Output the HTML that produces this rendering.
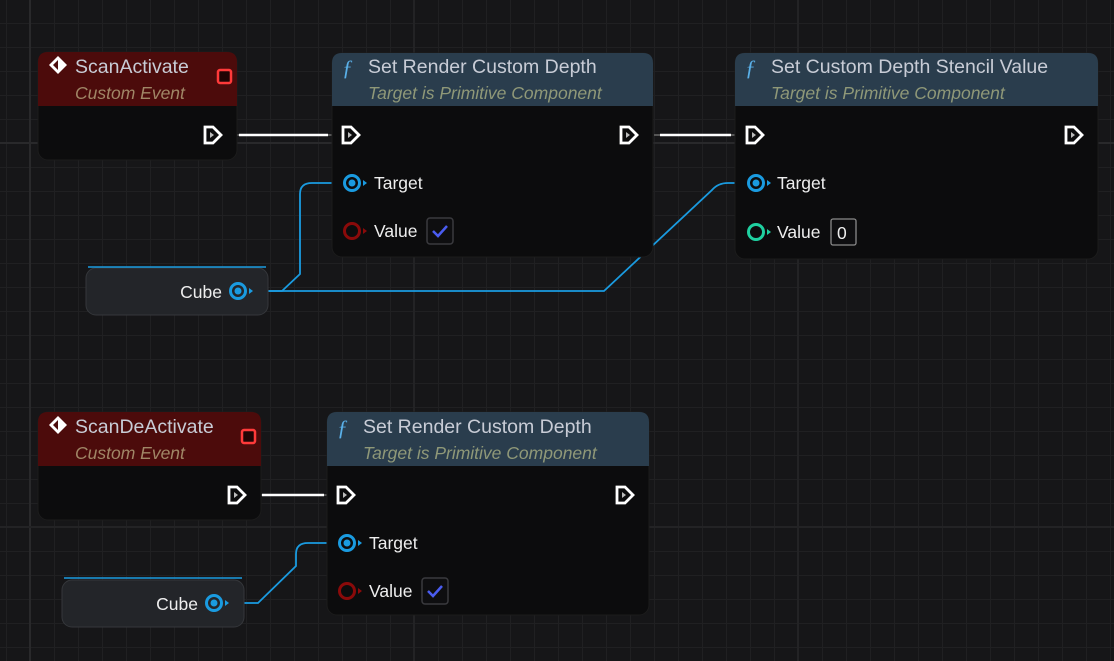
<!DOCTYPE html>
<html><head><meta charset="utf-8"><style>
html,body{margin:0;padding:0;background:#161616;}
svg{display:block;font-family:"Liberation Sans","DejaVu Sans",sans-serif;}
.t{fill:#c8ccd6;font-size:19.5px;}
.sub{fill:#8f9878;font-size:17.5px;font-style:italic;}
.ev{fill:#a08666;font-size:17.5px;font-style:italic;}
.lbl{fill:#eeeeee;font-size:17.5px;}
</style></head><body>
<svg width="1114" height="661" viewBox="0 0 1114 661" xmlns="http://www.w3.org/2000/svg">
<defs>
<pattern id="g" x="6" y="23" width="24" height="24" patternUnits="userSpaceOnUse">
<path d="M0 0H24M0 0V24" stroke="#202022" stroke-width="2" fill="none"/>
</pattern>
<g id="ex"><path d="M-8 -8H0L8 0L0 8H-8Z" fill="none" stroke="#fff" stroke-width="2.8"/><path d="M-3 -3L1 0L-3 3Z" fill="#bbb"/></g>
<g id="bp"><circle r="7.5" fill="none" stroke="#1a9be0" stroke-width="3"/><circle r="3.5" fill="#1a9be0"/><path d="M11 -3L15 0L11 3Z" fill="#1a9be0"/></g>
<g id="rp"><circle r="7.5" fill="none" stroke="#8a0a0a" stroke-width="3"/><path d="M11 -3L15 0L11 3Z" fill="#8a0a0a"/></g>
<g id="tp"><circle r="7.5" fill="none" stroke="#1fd0a0" stroke-width="3"/><path d="M11 -3L15 0L11 3Z" fill="#1fd0a0"/></g>
<g id="ck"><rect x="0" y="0" width="26" height="26" rx="3" fill="#0e0e10" stroke="#3a3a3e" stroke-width="1.5"/><path d="M6 13L11 18L20 8" fill="none" stroke="#4a5cf0" stroke-width="2.5"/></g>
</defs>
<rect width="1114" height="661" fill="#161618"/>
<rect width="1114" height="661" fill="url(#g)"/>
<path d="M30 0V661M0 143H1114" stroke="#29292b" stroke-width="2"/>
<path d="M414 0V661M798 0V661M0 527H1114" stroke="#232325" stroke-width="2"/>

<!-- wires top -->
<path d="M237 135H332" stroke="#555" stroke-width="2"/>
<path d="M239 135H328" stroke="#fff" stroke-width="2.5"/>
<path d="M654 135H735" stroke="#555" stroke-width="2"/>
<path d="M660 135H731" stroke="#fff" stroke-width="2.5"/>
<path d="M252 291H282L300 274V194Q300 183 312 183H344" stroke="#1a9be0" stroke-width="1.8" fill="none"/>
<path d="M260 291H604L712 190Q718 183 728 183H748" stroke="#1a9be0" stroke-width="1.8" fill="none"/>
<!-- wires bottom -->
<path d="M261 495H327" stroke="#555" stroke-width="2"/>
<path d="M262 495H324" stroke="#fff" stroke-width="2.5"/>
<path d="M228 603H258L296 566V554Q296 543 308 543H339" stroke="#1a9be0" stroke-width="1.8" fill="none"/>

<!-- Event top -->
<rect x="38" y="52" width="199" height="108" rx="10" fill="#0c0c0d" stroke="#1c1c1c"/>
<path d="M48 52H227Q237 52 237 62V106H38V62Q38 52 48 52Z" fill="#4c0b0b"/>
<path d="M58 56L67 65L58 74L49 65Z" fill="#fff"/><path d="M58 60L58 70L53 65Z" fill="#4c0b0b"/>
<text class="t" x="75" y="73">ScanActivate</text>
<text class="ev" x="75" y="99">Custom Event</text>
<rect x="218" y="70" width="13" height="13" rx="2" fill="#200404" stroke="#ff3a3a" stroke-width="2.5"/>
<use href="#ex" x="213" y="135"/>

<!-- Func 1 -->
<rect x="332" y="53" width="321" height="204" rx="10" fill="#0c0c0d" stroke="#1c1c1c"/>
<path d="M342 53H643Q653 53 653 63V106H332V63Q332 53 342 53Z" fill="#2a3d4d"/>
<text x="342" y="75" fill="#5ab0e8" font-size="22" font-style="italic" font-family="Liberation Serif,serif">ƒ</text>
<text class="t" x="368" y="73">Set Render Custom Depth</text>
<text class="sub" x="368" y="99">Target is Primitive Component</text>
<use href="#ex" x="351" y="135"/>
<use href="#ex" x="629" y="135"/>
<use href="#bp" x="352" y="183"/>
<text class="lbl" x="374" y="189">Target</text>
<use href="#rp" x="352" y="231"/>
<text class="lbl" x="374" y="237">Value</text>
<use href="#ck" x="427" y="218"/>

<!-- Func 2 -->
<rect x="735" y="53" width="363" height="206" rx="10" fill="#0c0c0d" stroke="#1c1c1c"/>
<path d="M745 53H1088Q1098 53 1098 63V106H735V63Q735 53 745 53Z" fill="#2a3d4d"/>
<text x="745" y="75" fill="#5ab0e8" font-size="22" font-style="italic" font-family="Liberation Serif,serif">ƒ</text>
<text class="t" x="771" y="73">Set Custom Depth Stencil Value</text>
<text class="sub" x="771" y="99">Target is Primitive Component</text>
<use href="#ex" x="755" y="135"/>
<use href="#ex" x="1074" y="135"/>
<use href="#bp" x="756" y="183"/>
<text class="lbl" x="777" y="189">Target</text>
<use href="#tp" x="756" y="232"/>
<text class="lbl" x="777" y="238">Value</text>
<rect x="831" y="219" width="25" height="26" rx="2" fill="#0e0e10" stroke="#8a8a8a" stroke-width="1.3"/>
<text class="lbl" x="837" y="239" fill="#ddd">0</text>

<!-- Cube top -->
<rect x="86" y="268" width="182" height="47" rx="10" fill="#232529" stroke="#35373b"/>
<path d="M88 267H266" stroke="#1a9be0" stroke-width="1.5"/>
<text class="lbl" x="222" y="298" text-anchor="end">Cube</text>
<use href="#bp" x="238" y="291"/>

<!-- Event bottom -->
<rect x="38" y="412" width="223" height="108" rx="10" fill="#0c0c0d" stroke="#1c1c1c"/>
<path d="M48 412H251Q261 412 261 422V466H38V422Q38 412 48 412Z" fill="#4c0b0b"/>
<path d="M58 416L67 425L58 434L49 425Z" fill="#fff"/><path d="M58 420L58 430L53 425Z" fill="#4c0b0b"/>
<text class="t" x="75" y="433">ScanDeActivate</text>
<text class="ev" x="75" y="459">Custom Event</text>
<rect x="242" y="430" width="13" height="13" rx="2" fill="#200404" stroke="#ff3a3a" stroke-width="2.5"/>
<use href="#ex" x="237" y="495"/>

<!-- Func 3 -->
<rect x="327" y="412" width="322" height="203" rx="10" fill="#0c0c0d" stroke="#1c1c1c"/>
<path d="M337 412H639Q649 412 649 422V466H327V422Q327 412 337 412Z" fill="#2a3d4d"/>
<text x="337" y="435" fill="#5ab0e8" font-size="22" font-style="italic" font-family="Liberation Serif,serif">ƒ</text>
<text class="t" x="363" y="433">Set Render Custom Depth</text>
<text class="sub" x="363" y="459">Target is Primitive Component</text>
<use href="#ex" x="346" y="495"/>
<use href="#ex" x="625" y="495"/>
<use href="#bp" x="347" y="543"/>
<text class="lbl" x="369" y="549">Target</text>
<use href="#rp" x="347" y="591"/>
<text class="lbl" x="369" y="597">Value</text>
<use href="#ck" x="422" y="578"/>

<!-- Cube bottom -->
<rect x="62" y="580" width="182" height="47" rx="10" fill="#232529" stroke="#35373b"/>
<path d="M64 578H242" stroke="#1a9be0" stroke-width="1.5"/>
<text class="lbl" x="198" y="610" text-anchor="end">Cube</text>
<use href="#bp" x="214" y="603"/>
</svg>
</body></html>
